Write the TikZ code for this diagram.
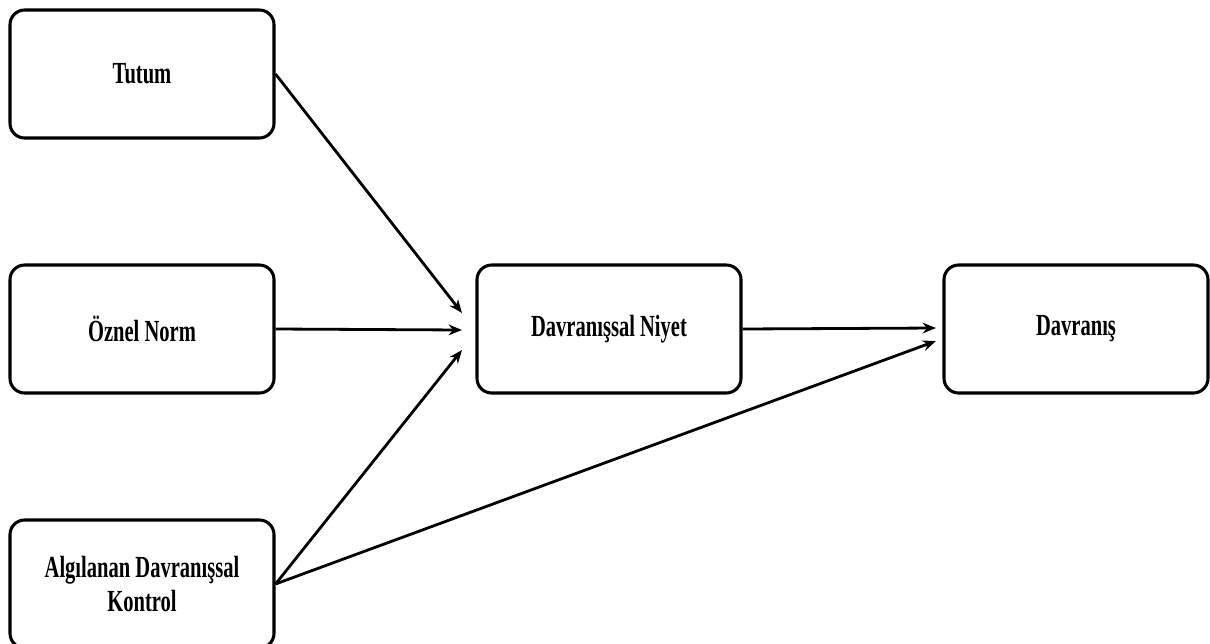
\documentclass[tikz,border=0pt]{standalone}
\usepackage{fontspec}
\setmainfont{Liberation Serif}[FakeStretch=0.67]
\usetikzlibrary{arrows.meta}
\begin{document}
\begin{tikzpicture}[x=0.75pt,y=-0.75pt,
    box/.style={draw, line width=2.3pt, rounded corners=11pt, minimum width=198pt, minimum height=96pt,
        align=center, font=\fontsize{23}{25}\selectfont\bfseries},
    link/.style={line width=2.1pt, -{Stealth[length=10pt,width=8pt]}}]
        \useasboundingbox (0,0) rectangle (1210,643);
        \clip (0,0) rectangle (1210,643);

        % Boxes
        \node[box] (tutum) at (142,74) {Tutum};
        \node[box] (norm) at (142,329) {Öznel Norm};
        \node[box] (kontrol) at (142,584) {Algılanan Davranışsal\\Kontrol};
        \node[box] (niyet) at (609,329) {Davranışsal Niyet};
        \node[box] (davranis) at (1076,329) {Davranış};

        % Arrow ends
        \coordinate (n1) at (462,313);
        \coordinate (n2) at (462,330);
        \coordinate (n3) at (462,350);
        \coordinate (d1) at (936,328);
        \coordinate (d2) at (936,341);

        % Arrows
        \draw[link] (tutum.east) -- (n1);
        \draw[link] (norm.east) -- (n2);
        \draw[link] (kontrol.east) -- (n3);
        \draw[link] (niyet.east) -- (d1);
        \draw[link] (kontrol.east) -- (d2);
    \end{tikzpicture}
\end{document}
